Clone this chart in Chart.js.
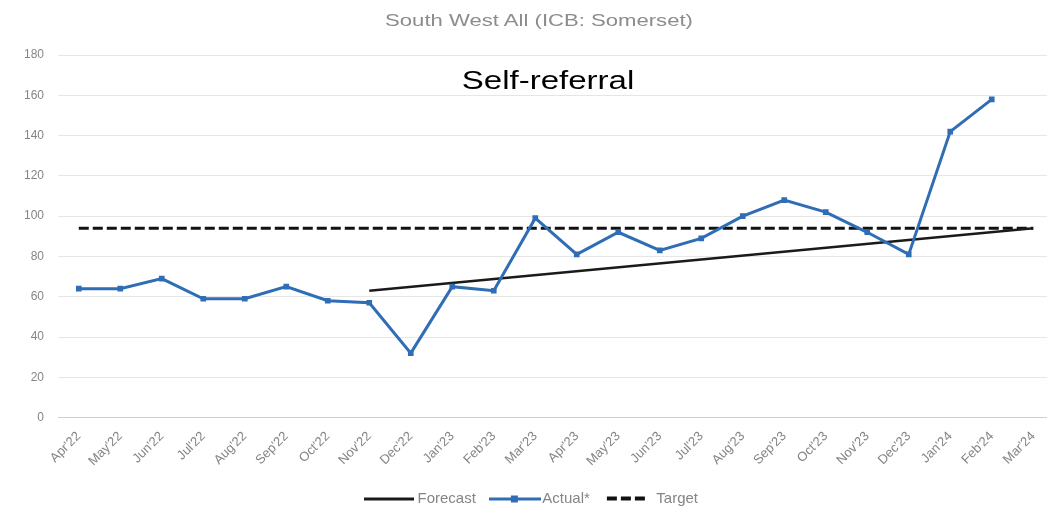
<!DOCTYPE html>
<html>
<head>
<meta charset="utf-8">
<script src="https://cdn.jsdelivr.net/npm/chart.js@4.4.1/dist/chart.umd.min.js"></script>
<style>
    html, body { margin: 0; padding: 0; background: #fff; overflow: hidden; }
    #wrap { position: relative; width: 1047px; height: 516px; overflow: hidden; }
    #chart { position: absolute; left: 0; top: 0; }
    .label {
        position: absolute; white-space: nowrap;
        font-family: "Liberation Sans", Arial, sans-serif;
        transform-origin: center center;
    }
    #title { left: 539px; top: 11px; font-size: 17px; color: #8c8c8c; transform: translateX(-50%) scaleX(1.3); }
    #sub { left: 548px; top: 65px; font-size: 26px; color: #000; transform: translateX(-50%) scaleX(1.27); }
</style>
</head>
<body>
<div id="wrap">
    <canvas id="chart" width="1058" height="516"></canvas>
    <div id="title" class="label">South West All (ICB: Somerset)</div>
    <div id="sub" class="label">Self-referral</div>
</div>
<script>
// Months on the x axis
const months = ["Apr'22", "May'22", "Jun'22", "Jul'22", "Aug'22", "Sep'22", "Oct'22", "Nov'22",
    "Dec'22", "Jan'23", "Feb'23", "Mar'23", "Apr'23", "May'23", "Jun'23", "Jul'23", "Aug'23",
    "Sep'23", "Oct'23", "Nov'23", "Dec'23", "Jan'24", "Feb'24", "Mar'24"];

// Actual* values (no value yet for Mar'24)
const actual = [64, 64, 69, 59, 59, 65, 58, 57, 32, 65, 63, 99, 81, 92, 83, 89, 100, 108, 102, 92, 81, 142, 158, null];

// Forecast: straight line from Nov'22 to Mar'24
const forecast = [null, null, null, null, null, null, null, 63, null, null, null, null, null, null,
    null, null, null, null, null, null, null, null, null, 94];

// Target
const target = [94, 94, 94, 94, 94, 94, 94, 94, 94, 94, 94, 94, 94, 94, 94, 94, 94, 94, 94, 94, 94, 94, 94, 94];

const yTicks = [0, 20, 40, 60, 80, 100, 120, 140, 160, 180];

const blue = '#2f6db5';
const greyText = '#858585';
const font = { family: '"Liberation Sans", Arial, sans-serif', size: 12 };

// little legend icons, drawn like the Excel ones
function legendIcon(draw) {
    const c = document.createElement('canvas');
    c.width = 52;
    c.height = 10;
    draw(c.getContext('2d'));
    return c;
}
const icons = [
    legendIcon(ctx => { ctx.fillStyle = '#1a1a1a'; ctx.fillRect(0, 4, 50, 3); }),
    legendIcon(ctx => { ctx.fillStyle = blue; ctx.fillRect(0, 4, 52, 3); ctx.fillRect(22, 2, 7, 7); }),
    legendIcon(ctx => { ctx.fillStyle = '#111'; [4, 18, 32].forEach(x => ctx.fillRect(x, 3, 10, 4)); })
];

new Chart(document.getElementById('chart'), {
    type: 'line',
    data: {
        labels: months,
        datasets: [
            {
                label: 'Forecast',
                data: forecast,
                borderColor: '#1a1a1a',
                backgroundColor: '#1a1a1a',
                borderWidth: 2.5,
                pointRadius: 0,
                spanGaps: true,
                order: 2
            },
            {
                label: 'Actual*',
                data: actual,
                borderColor: blue,
                backgroundColor: blue,
                borderWidth: 3,
                pointStyle: 'rect',
                pointRadius: 4,
                pointBorderWidth: 0,
                order: 1
            },
            {
                label: 'Target',
                data: target,
                borderColor: '#111',
                backgroundColor: '#111',
                borderWidth: 3,
                borderDash: [10, 4],
                pointRadius: 0,
                order: 3
            }
        ]
    },
    options: {
        responsive: false,
        animation: false,
        layout: { padding: { left: 10, right: 0, top: 55, bottom: 0 } },
        plugins: {
            legend: {
                position: 'bottom',
                labels: {
                    color: greyText,
                    font: { ...font, size: 15 },
                    usePointStyle: true,
                    pointStyleWidth: 40,
                    padding: 19,
                    sort: (a, b) => a.datasetIndex - b.datasetIndex,
                    generateLabels: (chart) => Chart.defaults.plugins.legend.labels.generateLabels(chart)
                        .map(item => ({ ...item, pointStyle: icons[item.datasetIndex] }))
                }
            },
            tooltip: { enabled: false }
        },
        scales: {
            x: {
                offset: true,
                grid: { display: false },
                border: { display: false },
                ticks: {
                    color: greyText,
                    font: { ...font, size: 13 },
                    minRotation: 45,
                    maxRotation: 45,
                    autoSkip: false
                }
            },
            y: {
                min: 0,
                max: 180,
                afterBuildTicks: (axis) => { axis.ticks = yTicks.map(v => ({ value: v })); },
                grid: { color: (c) => c.tick.value === 0 ? '#cfcfcf' : '#e6e6e6', drawTicks: false },
                border: { display: false },
                ticks: { color: greyText, font: font, padding: 14 }
            }
        }
    }
});
</script>
</body>
</html>
